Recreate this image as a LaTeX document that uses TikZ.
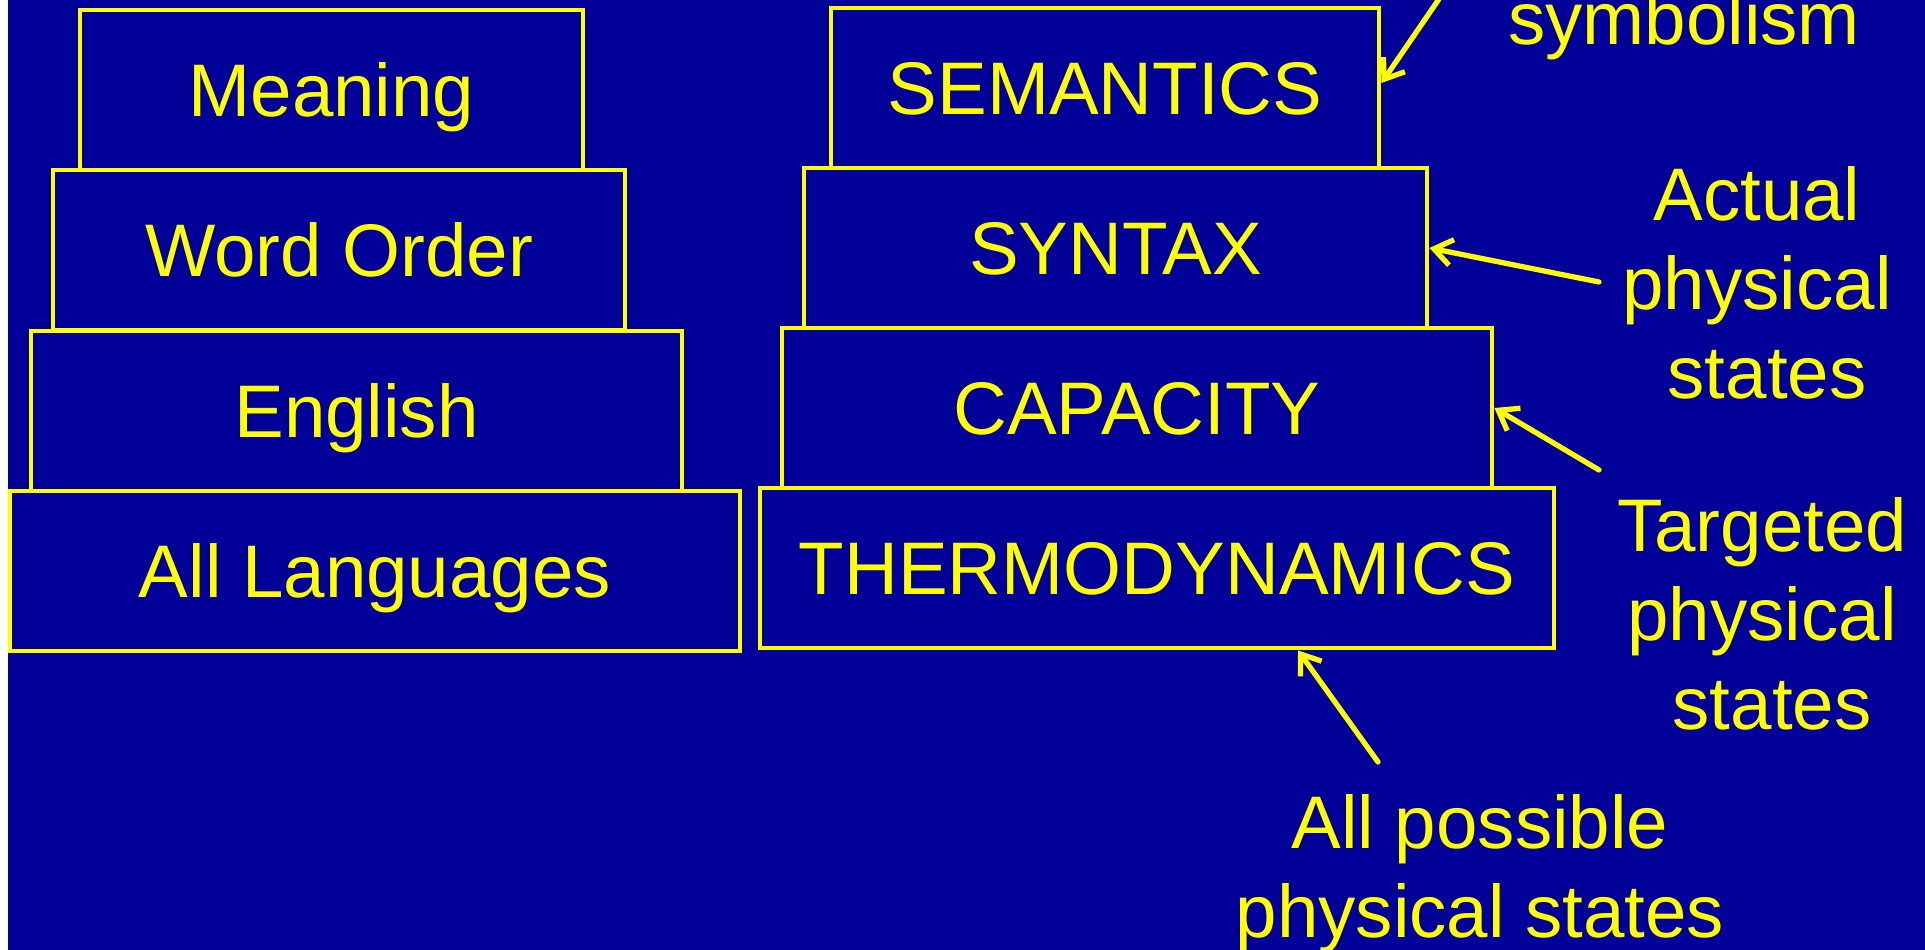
\documentclass[tikz,border=0pt]{standalone}
\usepackage{fontspec}
\setmainfont{Liberation Sans}
\usetikzlibrary{calc,arrows.meta}
\definecolor{slideblue}{RGB}{0,0,153}
\definecolor{slideyellow}{RGB}{255,255,0}
\newcommand{\slidefont}{\fontsize{21.2}{25.3}\selectfont}

\begin{document}
\begin{tikzpicture}[
    layer/.style={draw=slideyellow, line width=1.4pt, text=slideyellow, font=\slidefont,
      minimum height=1.6cm, text height=15.2pt, text depth=0pt, inner sep=0pt},
    note/.style={text=slideyellow, font=\slidefont, align=center, inner sep=0pt},
    pointer/.style={draw=slideyellow, line width=1.5pt, line cap=round,
      -{Straight Barb[length=0.18cm,width=0.26cm]}}
  ]
    \useasboundingbox (0,0) rectangle (19.25,9.5);
    \clip (0,0) rectangle (19.25,9.5);
    \fill[white] (0,0) rectangle (19.25,9.5);
    \fill[slideblue] (0.08,0) rectangle (19.25,9.5);

    % Language stack
    \node[layer, minimum width=5.03cm] (meaning) at (3.315,8.60) {Meaning};
    \node[layer, minimum width=5.72cm] (order) at (3.39,7.00) {Word Order};
    \node[layer, minimum width=6.51cm] (english) at (3.565,5.39) {English};
    \node[layer, minimum width=7.30cm] (alllang) at (3.75,3.79) {All Languages};

    % Physics stack
    \node[layer, minimum width=5.48cm] (sem) at (11.05,8.62) {SEMANTICS};
    \node[layer, minimum width=6.23cm] (syn) at (11.155,7.02) {SYNTAX};
    \node[layer, minimum width=7.10cm] (cap) at (11.37,5.42) {CAPACITY};
    \node[layer, minimum width=7.94cm] (thermo) at (11.57,3.82) {THERMODYNAMICS};

    % Labels on the right
    \node[note, anchor=base] (symb) at (16.84,9.05) {symbolism};
    \node[note, anchor=north] (actual) at (17.57,7.84) {Actual\\physical\\\hspace{0.2cm}states};
    \node[note, anchor=north] (target) at (17.62,4.53) {Targeted\\physical\\\hspace{0.2cm}states};
    \node[note, anchor=north] (possible) at (14.80,1.56) {All possible\\physical states};

    \coordinate (symtail) at (14.52,9.70);
    \coordinate (acttail) at (15.99,6.68);
    \coordinate (tgttail) at (15.99,4.80);
    \coordinate (alltail) at (13.78,1.88);

    \draw[pointer] (symtail) -- ([yshift=0.05cm]sem.east);
    \draw[pointer] (acttail) -- (syn.east);
    \draw[pointer] (tgttail) -- (cap.east);
    \draw[pointer] (alltail) -- ([xshift=1.41cm]thermo.south);
\end{tikzpicture}
\end{document}
